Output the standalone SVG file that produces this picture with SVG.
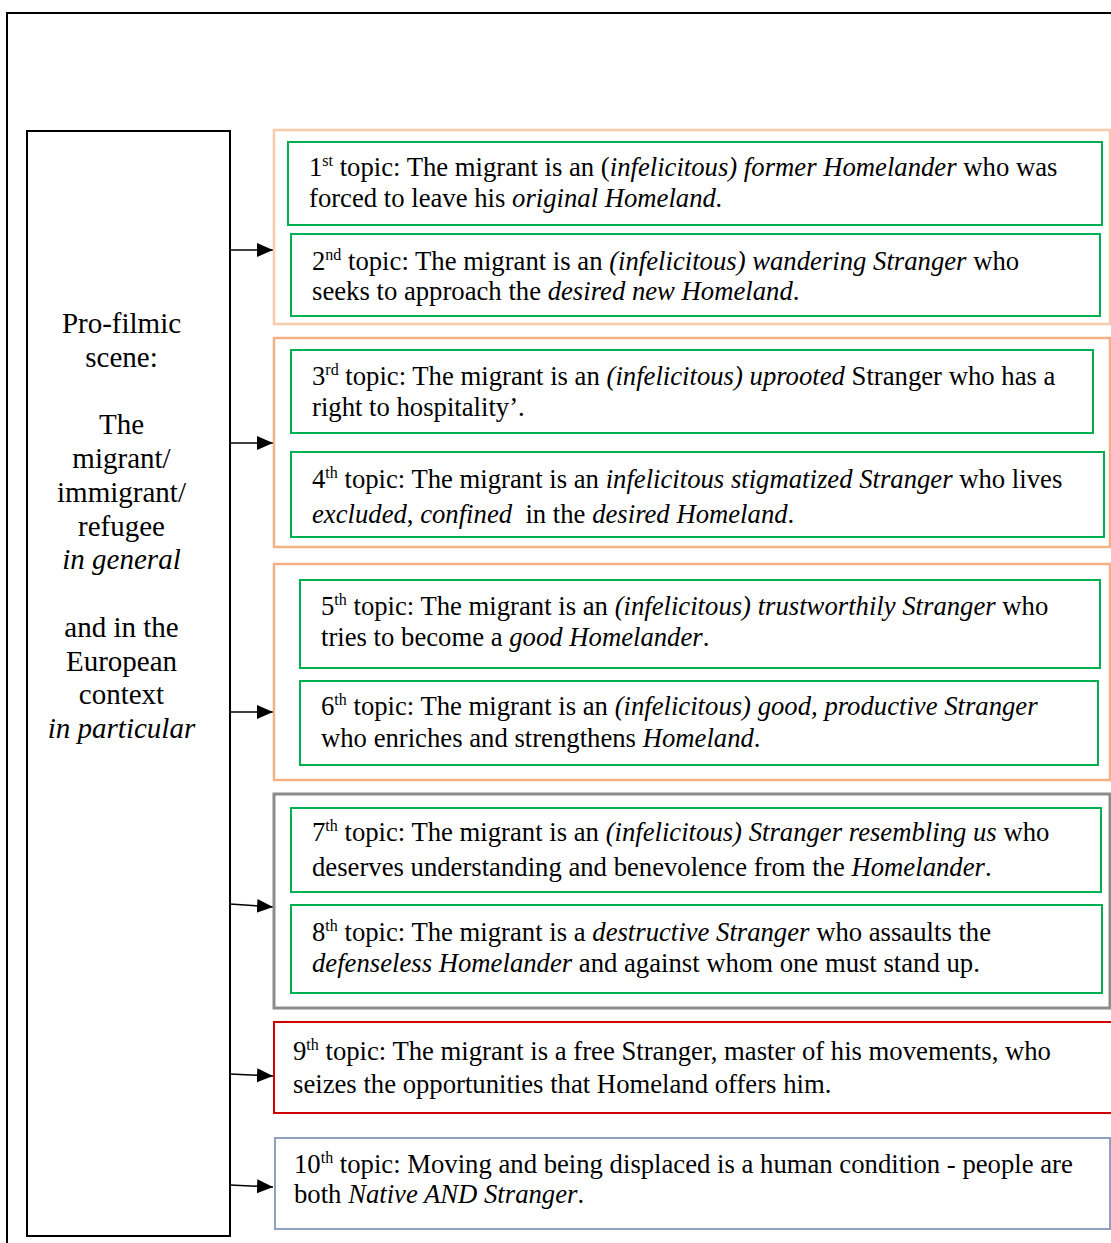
<svg xmlns="http://www.w3.org/2000/svg" width="1111" height="1243" viewBox="0 0 1111 1243">
<style>
text{font-family:"Liberation Serif","Times New Roman",serif;font-size:26.7px;fill:#000}
.i{font-style:italic}
.sup{font-size:16px}
.lt{text-anchor:middle;font-size:29px}
.g{fill:none;stroke:#00B050;stroke-width:2}
.o1{fill:none;stroke:#F8CBAD;stroke-width:2.5}
.o2{fill:none;stroke:#F4B183;stroke-width:2.5}
.gr{fill:none;stroke:#8C8C8C;stroke-width:3}
.rd{fill:none;stroke:#D00000;stroke-width:2}
.bl{fill:none;stroke:#8EA2BF;stroke-width:2}
.k{fill:none;stroke:#000;stroke-width:2}
.c{stroke:#000;stroke-width:1.5;fill:none}
</style>
<defs>
<marker id="ah" markerUnits="userSpaceOnUse" markerWidth="16" markerHeight="16" viewBox="0 0 16 16" refX="16" refY="8" orient="auto">
<path d="M0,1 L16,8 L0,15 Z" fill="#000"/>
</marker>
</defs>
<g id="frame">
<path d="M7,1243 L7,13 L1111,13" class="k"/>
</g>
<g id="scene">
<rect x="27" y="131" width="203" height="1105" class="k"/>
<text class="lt" x="121.5" y="333">Pro-filmic</text>
<text class="lt" x="121.5" y="367">scene:</text>
<text class="lt" x="121.5" y="434">The</text>
<text class="lt" x="121.5" y="468">migrant/</text>
<text class="lt" x="121.5" y="502">immigrant/</text>
<text class="lt" x="121.5" y="536">refugee</text>
<text class="lt i" x="121.5" y="569">in general</text>
<text class="lt" x="121.5" y="637">and in the</text>
<text class="lt" x="121.5" y="671">European</text>
<text class="lt" x="121.5" y="704">context</text>
<text class="lt i" x="121.5" y="738">in particular</text>
</g>
<g id="connectors">
<line x1="230" y1="250" x2="273" y2="250" class="c" marker-end="url(#ah)"/>
<line x1="230" y1="443" x2="273" y2="443" class="c" marker-end="url(#ah)"/>
<line x1="230" y1="712" x2="273" y2="712" class="c" marker-end="url(#ah)"/>
<line x1="230" y1="904" x2="273" y2="907" class="c" marker-end="url(#ah)"/>
<line x1="230" y1="1074" x2="273" y2="1076" class="c" marker-end="url(#ah)"/>
<line x1="230" y1="1185" x2="273" y2="1187" class="c" marker-end="url(#ah)"/>
</g>
<g id="group1">
<rect x="274" y="130" width="836" height="194" class="o1"/>
<g id="topic1">
<rect x="288" y="142" width="814" height="83" class="g"/>
<text x="309" y="176">1<tspan class="sup" dy="-10">st</tspan><tspan dy="10"> topic: The migrant is an (</tspan><tspan class="i">infelicitous) former Homelander</tspan> who was</text>
<text x="309" y="207">forced to leave his <tspan class="i">original Homeland.</tspan></text>
</g>
<g id="topic2">
<rect x="291" y="234" width="809" height="82" class="g"/>
<text x="312" y="270">2<tspan class="sup" dy="-10">nd</tspan><tspan dy="10"> topic: The migrant is an </tspan><tspan class="i">(infelicitous) wandering Stranger</tspan> who</text>
<text x="312" y="300">seeks to approach the <tspan class="i">desired new Homeland</tspan>.</text>
</g>
</g>
<g id="group2">
<rect x="274" y="338" width="836" height="209" class="o2"/>
<g id="topic3">
<rect x="291" y="350" width="802" height="83" class="g"/>
<text x="312" y="385">3<tspan class="sup" dy="-10">rd</tspan><tspan dy="10"> topic: The migrant is an </tspan><tspan class="i">(infelicitous) uprooted</tspan> Stranger who has a</text>
<text x="312" y="416">right to hospitality’.</text>
</g>
<g id="topic4">
<rect x="291" y="452" width="813" height="85" class="g"/>
<text x="312" y="488">4<tspan class="sup" dy="-10">th</tspan><tspan dy="10"> topic: The migrant is an </tspan><tspan class="i">infelicitous stigmatized Stranger</tspan> who lives</text>
<text x="312" y="523" xml:space="preserve"><tspan class="i">excluded</tspan>, <tspan class="i">confined</tspan>  in the <tspan class="i">desired Homeland</tspan>.</text>
</g>
</g>
<g id="group3">
<rect x="274" y="564" width="836" height="216" class="o2"/>
<g id="topic5">
<rect x="300" y="580" width="800" height="88" class="g"/>
<text x="321" y="615">5<tspan class="sup" dy="-10">th</tspan><tspan dy="10"> topic: The migrant is an </tspan><tspan class="i">(infelicitous) trustworthily Stranger</tspan> who</text>
<text x="321" y="646">tries to become a <tspan class="i">good Homelander</tspan>.</text>
</g>
<g id="topic6">
<rect x="300" y="681" width="798" height="84" class="g"/>
<text x="321" y="715">6<tspan class="sup" dy="-10">th</tspan><tspan dy="10"> topic: The migrant is an </tspan><tspan class="i">(infelicitous) good, productive Stranger</tspan></text>
<text x="321" y="747">who enriches and strengthens <tspan class="i">Homeland</tspan>.</text>
</g>
</g>
<g id="group4">
<rect x="274" y="794" width="836" height="214" class="gr"/>
<g id="topic7">
<rect x="291" y="808" width="810" height="84" class="g"/>
<text x="312" y="841">7<tspan class="sup" dy="-10">th</tspan><tspan dy="10"> topic: The migrant is an </tspan><tspan class="i">(infelicitous) Stranger resembling us</tspan> who</text>
<text x="312" y="876">deserves understanding and benevolence from the <tspan class="i">Homelander</tspan>.</text>
</g>
<g id="topic8">
<rect x="291" y="905" width="811" height="88" class="g"/>
<text x="312" y="941">8<tspan class="sup" dy="-10">th</tspan><tspan dy="10"> topic: The migrant is a </tspan><tspan class="i">destructive Stranger</tspan> who assaults the</text>
<text x="312" y="972"><tspan class="i">defenseless Homelander</tspan> and against whom one must stand up.</text>
</g>
</g>
<g id="topic9">
<rect x="274" y="1022" width="838" height="91" class="rd"/>
<text x="293" y="1060">9<tspan class="sup" dy="-10">th</tspan><tspan dy="10"> topic: The migrant is a free Stranger, master of his movements, who</tspan></text>
<text x="293" y="1093">seizes the opportunities that Homeland offers him.</text>
</g>
<g id="topic10">
<rect x="275" y="1138" width="835" height="91" class="bl"/>
<text x="294" y="1173">10<tspan class="sup" dy="-10">th</tspan><tspan dy="10"> topic: Moving and being displaced is a human condition - people are</tspan></text>
<text x="294" y="1203">both <tspan class="i">Native AND Stranger</tspan>.</text>
</g>
</svg>
